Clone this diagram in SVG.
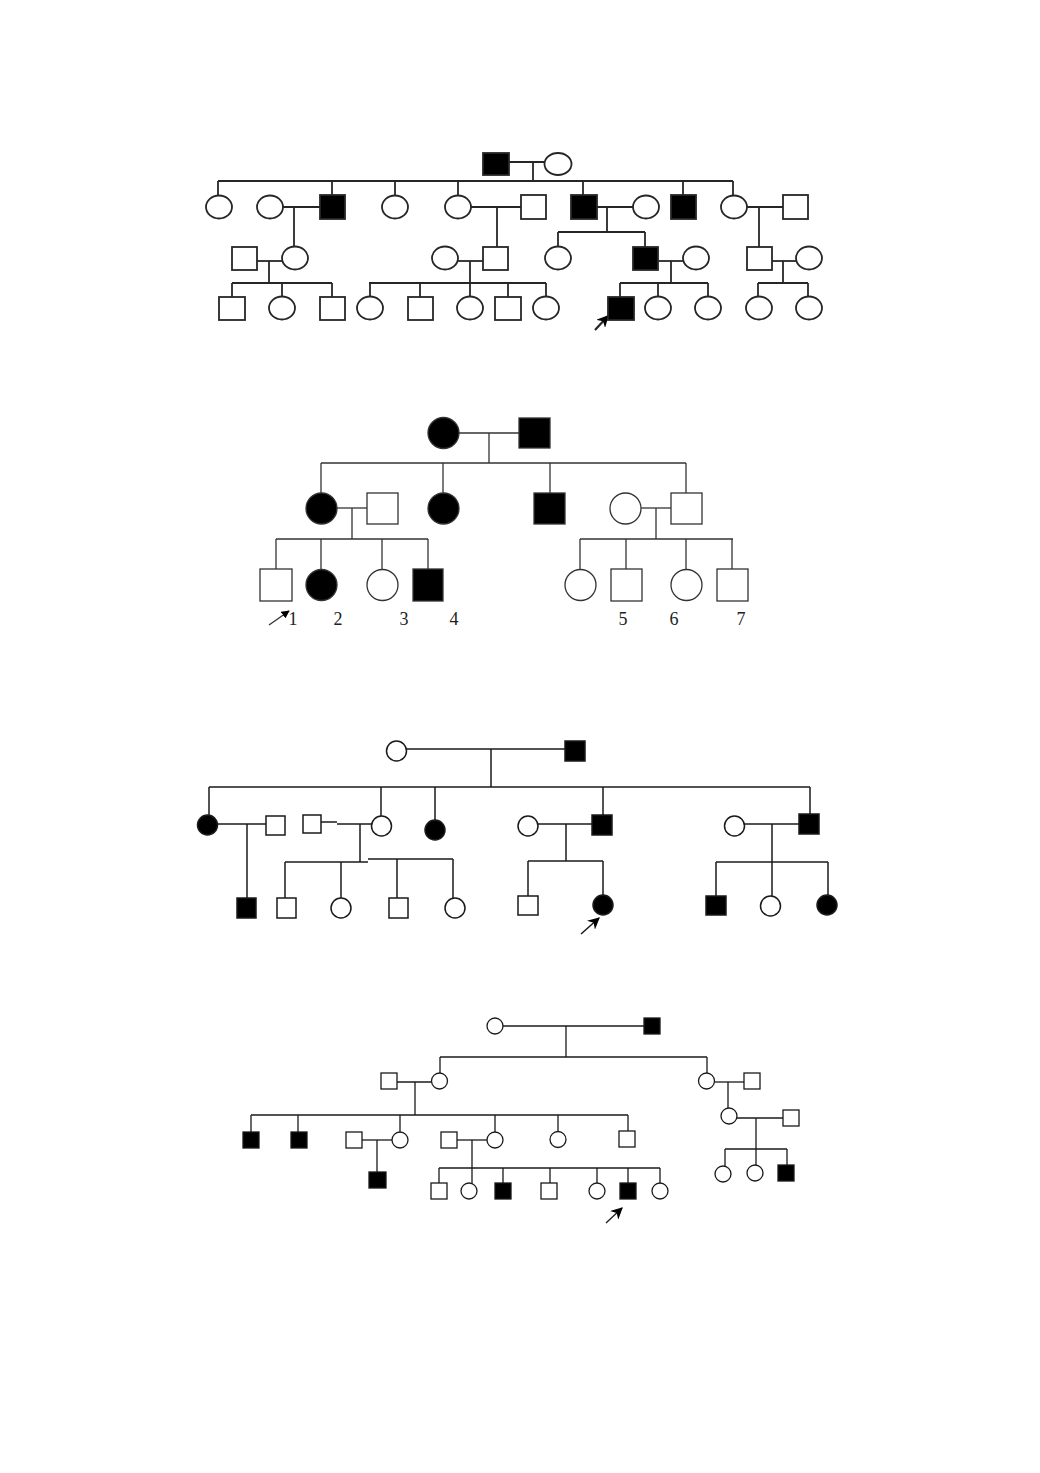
<svg xmlns="http://www.w3.org/2000/svg" width="1040" height="1473" viewBox="0 0 1040 1473">
<style>
.p1 line, .p1 rect, .p1 ellipse, .p1 circle { stroke:#262626; stroke-width:1.8; }
.p2 line, .p2 rect, .p2 ellipse, .p2 circle { stroke:#333; stroke-width:1.3; }
.p3 line, .p3 rect, .p3 ellipse, .p3 circle { stroke:#1a1a1a; stroke-width:1.5; }
.p4 line, .p4 rect, .p4 ellipse, .p4 circle { stroke:#1a1a1a; stroke-width:1.3; }
.o { fill:#fff; }
.f { fill:#000; }
.lbl { font-family:"Liberation Serif","Times New Roman",serif; font-size:18px; fill:#222; text-anchor:middle; }
</style>
<defs>
<marker id="ah" viewBox="0 0 10 10" refX="9" refY="5" markerWidth="8" markerHeight="8" markerUnits="userSpaceOnUse" orient="auto"><path d="M0,0 L10,5 L0,10 z" fill="#000"/></marker>
<marker id="ah2" viewBox="0 0 10 10" refX="9" refY="5" markerWidth="12" markerHeight="12" markerUnits="userSpaceOnUse" orient="auto"><path d="M0,0 L10,5 L0,10 L3,5 z" fill="#000"/></marker>
</defs>
<rect width="1040" height="1473" fill="#fff"/>

<!-- ============ Pedigree 1 ============ -->
<g class="p1">
<g id="p1-connectors">
<line x1="509" y1="162" x2="545" y2="162"/>
<line x1="533" y1="162" x2="533" y2="181"/>
<line x1="218" y1="181" x2="733" y2="181"/>
<line x1="218" y1="181" x2="218" y2="196"/>
<line x1="332" y1="181" x2="332" y2="195"/>
<line x1="395" y1="181" x2="395" y2="196"/>
<line x1="458" y1="181" x2="458" y2="196"/>
<line x1="583" y1="181" x2="583" y2="195"/>
<line x1="683" y1="181" x2="683" y2="195"/>
<line x1="733" y1="181" x2="733" y2="196"/>
<line x1="283" y1="207" x2="320" y2="207"/>
<line x1="294" y1="207" x2="294" y2="247"/>
<line x1="471" y1="207" x2="521" y2="207"/>
<line x1="497" y1="207" x2="497" y2="247"/>
<line x1="597" y1="207" x2="633" y2="207"/>
<line x1="607" y1="207" x2="607" y2="232"/>
<line x1="558" y1="232" x2="645" y2="232"/>
<line x1="558" y1="232" x2="558" y2="247"/>
<line x1="645" y1="232" x2="645" y2="247"/>
<line x1="747" y1="207" x2="783" y2="207"/>
<line x1="759" y1="207" x2="759" y2="247"/>
<line x1="257" y1="261" x2="282" y2="261"/>
<line x1="269" y1="261" x2="269" y2="283"/>
<line x1="232" y1="283" x2="332" y2="283"/>
<line x1="232" y1="283" x2="232" y2="297"/>
<line x1="282" y1="283" x2="282" y2="297"/>
<line x1="332" y1="283" x2="332" y2="297"/>
<line x1="458" y1="261" x2="483" y2="261"/>
<line x1="470" y1="261" x2="470" y2="297"/>
<line x1="369" y1="283" x2="546" y2="283"/>
<line x1="370" y1="283" x2="370" y2="297"/>
<line x1="420" y1="283" x2="420" y2="297"/>
<line x1="508" y1="283" x2="508" y2="297"/>
<line x1="546" y1="283" x2="546" y2="297"/>
<line x1="658" y1="261" x2="683" y2="261"/>
<line x1="671" y1="261" x2="671" y2="283"/>
<line x1="620" y1="283" x2="708" y2="283"/>
<line x1="620" y1="283" x2="620" y2="297"/>
<line x1="658" y1="283" x2="658" y2="297"/>
<line x1="708" y1="283" x2="708" y2="297"/>
<line x1="772" y1="261" x2="796" y2="261"/>
<line x1="783" y1="261" x2="783" y2="283"/>
<line x1="758" y1="283" x2="808" y2="283"/>
<line x1="758" y1="283" x2="758" y2="297"/>
<line x1="808" y1="283" x2="808" y2="297"/>
<line x1="595" y1="330" x2="608" y2="316" style="stroke-width:2.2" marker-end="url(#ah2)"/>
</g>
<g id="p1-I-1"><rect class="f" x="483" y="153" width="26" height="22"/></g>
<g id="p1-I-2"><ellipse class="o" cx="558" cy="164" rx="13.5" ry="11"/></g>
<g id="p1-II-1"><ellipse class="o" cx="219" cy="207" rx="13" ry="11.5"/></g>
<g id="p1-II-2"><ellipse class="o" cx="270" cy="207" rx="13" ry="11.5"/></g>
<g id="p1-II-3"><rect class="f" x="320" y="195" width="25" height="24"/></g>
<g id="p1-II-4"><ellipse class="o" cx="395" cy="207" rx="13" ry="11.5"/></g>
<g id="p1-II-5"><ellipse class="o" cx="458" cy="207" rx="13" ry="11.5"/></g>
<g id="p1-II-6"><rect class="o" x="521" y="195" width="25" height="24"/></g>
<g id="p1-II-7"><rect class="f" x="571" y="195" width="26" height="24"/></g>
<g id="p1-II-8"><ellipse class="o" cx="646" cy="207" rx="13" ry="11.5"/></g>
<g id="p1-II-9"><rect class="f" x="671" y="195" width="25" height="24"/></g>
<g id="p1-II-10"><ellipse class="o" cx="734" cy="207" rx="13" ry="11.5"/></g>
<g id="p1-II-11"><rect class="o" x="783" y="195" width="25" height="24"/></g>
<g id="p1-III-1"><rect class="o" x="232" y="247" width="25" height="23"/></g>
<g id="p1-III-2"><ellipse class="o" cx="295" cy="258" rx="13" ry="11.5"/></g>
<g id="p1-III-3"><ellipse class="o" cx="445" cy="258" rx="13" ry="11.5"/></g>
<g id="p1-III-4"><rect class="o" x="483" y="247" width="25" height="23"/></g>
<g id="p1-III-5"><ellipse class="o" cx="558" cy="258" rx="13" ry="11.5"/></g>
<g id="p1-III-6"><rect class="f" x="633" y="247" width="25" height="23"/></g>
<g id="p1-III-7"><ellipse class="o" cx="696" cy="258" rx="13" ry="11.5"/></g>
<g id="p1-III-8"><rect class="o" x="747" y="247" width="25" height="23"/></g>
<g id="p1-III-9"><ellipse class="o" cx="809" cy="258" rx="13" ry="11.5"/></g>
<g id="p1-IV-1"><rect class="o" x="219" y="297" width="26" height="23"/></g>
<g id="p1-IV-2"><ellipse class="o" cx="282" cy="308" rx="13" ry="11.5"/></g>
<g id="p1-IV-3"><rect class="o" x="320" y="297" width="25" height="23"/></g>
<g id="p1-IV-4"><ellipse class="o" cx="370" cy="308" rx="13" ry="11.5"/></g>
<g id="p1-IV-5"><rect class="o" x="408" y="297" width="25" height="23"/></g>
<g id="p1-IV-6"><ellipse class="o" cx="470" cy="308" rx="13" ry="11.5"/></g>
<g id="p1-IV-7"><rect class="o" x="495" y="297" width="26" height="23"/></g>
<g id="p1-IV-8"><ellipse class="o" cx="546" cy="308" rx="13" ry="11.5"/></g>
<g id="p1-IV-9"><rect class="f" x="608" y="297" width="26" height="23"/></g>
<g id="p1-IV-10"><ellipse class="o" cx="658" cy="308" rx="13" ry="11.5"/></g>
<g id="p1-IV-11"><ellipse class="o" cx="708" cy="308" rx="13" ry="11.5"/></g>
<g id="p1-IV-12"><ellipse class="o" cx="759" cy="308" rx="13" ry="11.5"/></g>
<g id="p1-IV-13"><ellipse class="o" cx="809" cy="308" rx="13" ry="11.5"/></g>
</g>

<!-- ============ Pedigree 2 ============ -->
<g class="p2">
<g id="p2-connectors">
<line x1="459" y1="433" x2="519" y2="433"/>
<line x1="489" y1="433" x2="489" y2="463"/>
<line x1="321" y1="463" x2="686" y2="463"/>
<line x1="321" y1="463" x2="321" y2="493"/>
<line x1="443" y1="463" x2="443" y2="493"/>
<line x1="550" y1="463" x2="550" y2="493"/>
<line x1="686" y1="463" x2="686" y2="493"/>
<line x1="337" y1="508" x2="367" y2="508"/>
<line x1="352" y1="508" x2="352" y2="539"/>
<line x1="276" y1="539" x2="428" y2="539"/>
<line x1="276" y1="539" x2="276" y2="569"/>
<line x1="321" y1="539" x2="321" y2="569"/>
<line x1="382" y1="539" x2="382" y2="569"/>
<line x1="428" y1="539" x2="428" y2="569"/>
<line x1="641" y1="508" x2="671" y2="508"/>
<line x1="656" y1="508" x2="656" y2="539"/>
<line x1="580" y1="539" x2="733" y2="539"/>
<line x1="580" y1="539" x2="580" y2="569"/>
<line x1="626" y1="539" x2="626" y2="569"/>
<line x1="686" y1="539" x2="686" y2="569"/>
<line x1="732" y1="539" x2="732" y2="569"/>
<line x1="269" y1="625" x2="289" y2="611" marker-end="url(#ah)"/>
</g>
<g id="p2-I-1"><circle class="f" cx="443.5" cy="433" r="15.5"/></g>
<g id="p2-I-2"><rect class="f" x="519" y="418" width="31" height="30"/></g>
<g id="p2-II-1"><circle class="f" cx="321.5" cy="508.5" r="15.5"/></g>
<g id="p2-II-2"><rect class="o" x="367" y="493" width="31" height="31"/></g>
<g id="p2-II-3"><circle class="f" cx="443.5" cy="508.5" r="15.5"/></g>
<g id="p2-II-4"><rect class="f" x="534" y="493" width="31" height="31"/></g>
<g id="p2-II-5"><circle class="o" cx="625.5" cy="508.5" r="15.5"/></g>
<g id="p2-II-6"><rect class="o" x="671" y="493" width="31" height="31"/></g>
<g id="p2-III-1"><rect class="o" x="260" y="569" width="32" height="32"/></g>
<g id="p2-III-2"><circle class="f" cx="321.5" cy="585" r="15.5"/></g>
<g id="p2-III-3"><circle class="o" cx="382.5" cy="585" r="15.5"/></g>
<g id="p2-III-4"><rect class="f" x="413" y="569" width="30" height="32"/></g>
<g id="p2-III-5"><circle class="o" cx="580.5" cy="585" r="15.5"/></g>
<g id="p2-III-6"><rect class="o" x="611" y="569" width="31" height="32"/></g>
<g id="p2-III-7"><circle class="o" cx="686.5" cy="585" r="15.5"/></g>
<g id="p2-III-8"><rect class="o" x="717" y="569" width="31" height="32"/></g>
<g id="p2-labels">
<text class="lbl" x="293" y="625">1</text>
<text class="lbl" x="338" y="625">2</text>
<text class="lbl" x="404" y="625">3</text>
<text class="lbl" x="454" y="625">4</text>
<text class="lbl" x="623" y="625">5</text>
<text class="lbl" x="674" y="625">6</text>
<text class="lbl" x="741" y="625">7</text>
</g>
</g>

<!-- ============ Pedigree 3 ============ -->
<g class="p3">
<g id="p3-connectors">
<line x1="406" y1="749" x2="565" y2="749"/>
<line x1="491" y1="749" x2="491" y2="787"/>
<line x1="209" y1="787" x2="810" y2="787"/>
<line x1="209" y1="787" x2="209" y2="815"/>
<line x1="381" y1="787" x2="381" y2="816"/>
<line x1="435" y1="787" x2="435" y2="820"/>
<line x1="603" y1="787" x2="603" y2="815"/>
<line x1="810" y1="787" x2="810" y2="814"/>
<line x1="217" y1="824" x2="266" y2="824"/>
<line x1="247" y1="824" x2="247" y2="898"/>
<line x1="321" y1="822" x2="337" y2="822"/>
<line x1="337" y1="824" x2="372" y2="824"/>
<line x1="360" y1="824" x2="360" y2="862"/>
<line x1="285" y1="862" x2="368" y2="862"/>
<line x1="368" y1="859" x2="453" y2="859"/>
<line x1="285" y1="862" x2="285" y2="898"/>
<line x1="341" y1="862" x2="341" y2="898"/>
<line x1="397" y1="859" x2="397" y2="898"/>
<line x1="453" y1="859" x2="453" y2="898"/>
<line x1="538" y1="824" x2="592" y2="824"/>
<line x1="566" y1="824" x2="566" y2="861"/>
<line x1="528" y1="861" x2="603" y2="861"/>
<line x1="528" y1="861" x2="528" y2="896"/>
<line x1="603" y1="861" x2="603" y2="895"/>
<line x1="744" y1="824" x2="799" y2="824"/>
<line x1="772" y1="824" x2="772" y2="896"/>
<line x1="716" y1="862" x2="828" y2="862"/>
<line x1="716" y1="862" x2="716" y2="896"/>
<line x1="828" y1="862" x2="828" y2="895"/>
<line x1="581" y1="934" x2="599" y2="918" marker-end="url(#ah2)"/>
</g>
<g id="p3-I-1"><circle class="o" cx="396.5" cy="751" r="10"/></g>
<g id="p3-I-2"><rect class="f" x="565" y="741" width="20" height="20"/></g>
<g id="p3-II-1"><circle class="f" cx="207.5" cy="825" r="10"/></g>
<g id="p3-II-2"><rect class="o" x="266" y="816" width="19" height="19"/></g>
<g id="p3-II-3"><rect class="o" x="303" y="815" width="18" height="18"/></g>
<g id="p3-II-4"><circle class="o" cx="381.5" cy="826" r="10"/></g>
<g id="p3-II-5"><circle class="f" cx="435" cy="830" r="10"/></g>
<g id="p3-II-6"><circle class="o" cx="528" cy="826" r="10"/></g>
<g id="p3-II-7"><rect class="f" x="592" y="815" width="20" height="20"/></g>
<g id="p3-II-8"><circle class="o" cx="734.5" cy="826" r="10"/></g>
<g id="p3-II-9"><rect class="f" x="799" y="814" width="20" height="20"/></g>
<g id="p3-III-1"><rect class="f" x="237" y="898" width="19" height="20"/></g>
<g id="p3-III-2"><rect class="o" x="277" y="898" width="19" height="20"/></g>
<g id="p3-III-3"><circle class="o" cx="341" cy="908" r="10"/></g>
<g id="p3-III-4"><rect class="o" x="389" y="898" width="19" height="20"/></g>
<g id="p3-III-5"><circle class="o" cx="455" cy="908" r="10"/></g>
<g id="p3-III-6"><rect class="o" x="518" y="896" width="20" height="19"/></g>
<g id="p3-III-7"><circle class="f" cx="603" cy="905" r="10"/></g>
<g id="p3-III-8"><rect class="f" x="706" y="896" width="20" height="19"/></g>
<g id="p3-III-9"><circle class="o" cx="770.5" cy="906" r="10"/></g>
<g id="p3-III-10"><circle class="f" cx="827" cy="905" r="10"/></g>
</g>

<!-- ============ Pedigree 4 ============ -->
<g class="p4">
<g id="p4-connectors">
<line x1="503" y1="1026" x2="644" y2="1026"/>
<line x1="566" y1="1026" x2="566" y2="1057"/>
<line x1="440" y1="1057" x2="707" y2="1057"/>
<line x1="440" y1="1057" x2="440" y2="1073"/>
<line x1="707" y1="1057" x2="707" y2="1073"/>
<line x1="397" y1="1082" x2="431" y2="1082"/>
<line x1="415" y1="1082" x2="415" y2="1115"/>
<line x1="251" y1="1115" x2="628" y2="1115"/>
<line x1="251" y1="1115" x2="251" y2="1132"/>
<line x1="298" y1="1115" x2="298" y2="1132"/>
<line x1="400" y1="1115" x2="400" y2="1132"/>
<line x1="495" y1="1115" x2="495" y2="1132"/>
<line x1="558" y1="1115" x2="558" y2="1131"/>
<line x1="628" y1="1115" x2="628" y2="1131"/>
<line x1="715" y1="1082" x2="744" y2="1082"/>
<line x1="728" y1="1082" x2="728" y2="1108"/>
<line x1="737" y1="1118" x2="783" y2="1118"/>
<line x1="756" y1="1118" x2="756" y2="1149"/>
<line x1="725" y1="1149" x2="787" y2="1149"/>
<line x1="725" y1="1149" x2="725" y2="1166"/>
<line x1="756" y1="1149" x2="756" y2="1165"/>
<line x1="787" y1="1149" x2="787" y2="1165"/>
<line x1="362" y1="1140" x2="392" y2="1140"/>
<line x1="377" y1="1140" x2="377" y2="1172"/>
<line x1="457" y1="1140" x2="487" y2="1140"/>
<line x1="472" y1="1140" x2="472" y2="1183"/>
<line x1="439" y1="1168" x2="660" y2="1168"/>
<line x1="439" y1="1168" x2="439" y2="1183"/>
<line x1="503" y1="1168" x2="503" y2="1183"/>
<line x1="550" y1="1168" x2="550" y2="1183"/>
<line x1="597" y1="1168" x2="597" y2="1183"/>
<line x1="628" y1="1168" x2="628" y2="1183"/>
<line x1="660" y1="1168" x2="660" y2="1183"/>
<line x1="606" y1="1223" x2="622" y2="1208" marker-end="url(#ah2)"/>
</g>
<g id="p4-I-1"><circle class="o" cx="495" cy="1026" r="8"/></g>
<g id="p4-I-2"><rect class="f" x="644" y="1018" width="16" height="16"/></g>
<g id="p4-II-1"><rect class="o" x="381" y="1073" width="16" height="16"/></g>
<g id="p4-II-2"><circle class="o" cx="439.5" cy="1081" r="8"/></g>
<g id="p4-II-3"><circle class="o" cx="706.5" cy="1081" r="8"/></g>
<g id="p4-II-4"><rect class="o" x="744" y="1073" width="16" height="16"/></g>
<g id="p4-III-1"><rect class="f" x="243" y="1132" width="16" height="16"/></g>
<g id="p4-III-2"><rect class="f" x="291" y="1132" width="16" height="16"/></g>
<g id="p4-III-3"><rect class="o" x="346" y="1132" width="16" height="16"/></g>
<g id="p4-III-4"><circle class="o" cx="400" cy="1140" r="8"/></g>
<g id="p4-III-5"><rect class="o" x="441" y="1132" width="16" height="16"/></g>
<g id="p4-III-6"><circle class="o" cx="495" cy="1140" r="8"/></g>
<g id="p4-III-7"><circle class="o" cx="558" cy="1139.5" r="8"/></g>
<g id="p4-III-8"><rect class="o" x="619" y="1131" width="16" height="16"/></g>
<g id="p4-III-9"><circle class="o" cx="729" cy="1116" r="8"/></g>
<g id="p4-III-10"><rect class="o" x="783" y="1110" width="16" height="16"/></g>
<g id="p4-IV-1"><rect class="f" x="369" y="1172" width="17" height="16"/></g>
<g id="p4-IV-2"><rect class="o" x="431" y="1183" width="16" height="16"/></g>
<g id="p4-IV-3"><circle class="o" cx="469" cy="1191" r="8"/></g>
<g id="p4-IV-4"><rect class="f" x="495" y="1183" width="16" height="16"/></g>
<g id="p4-IV-5"><rect class="o" x="541" y="1183" width="16" height="16"/></g>
<g id="p4-IV-6"><circle class="o" cx="597" cy="1191" r="8"/></g>
<g id="p4-IV-7"><rect class="f" x="620" y="1183" width="16" height="16"/></g>
<g id="p4-IV-8"><circle class="o" cx="660" cy="1191" r="8"/></g>
<g id="p4-IV-9"><circle class="o" cx="723" cy="1174" r="8"/></g>
<g id="p4-IV-10"><circle class="o" cx="755" cy="1173" r="8"/></g>
<g id="p4-IV-11"><rect class="f" x="778" y="1165" width="16" height="16"/></g>
</g>
</svg>
